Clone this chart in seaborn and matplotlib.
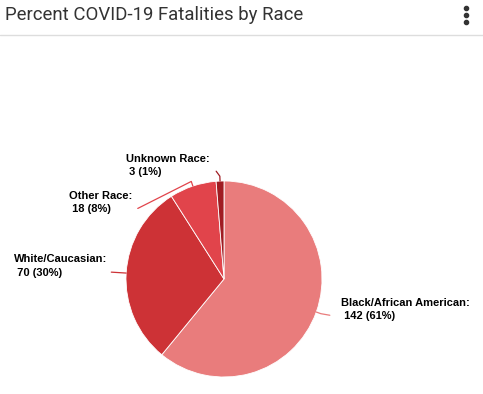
import numpy as np
import matplotlib
matplotlib.use("Agg")
import matplotlib.pyplot as plt
from matplotlib.lines import Line2D
import seaborn as sns

# data
races = ["Black/African American", "White/Caucasian", "Other Race", "Unknown Race"]
deaths = [142, 70, 18, 3]
percents = [61, 30, 8, 1]
colors = ["#e97c7c", "#cd3236", "#e1444b", "#a01c22"]

# label text anchors (data units, pie radius = 1) and line elbows
label_pos = [(1.19, -0.31), (-2.14, 0.13), (-1.58, 0.78), (-1.0, 1.16)]
line_end = [(1.08, -0.37), (-1.15, 0.07), (-0.88, 0.72), (-0.08, 1.10)]

sns.set_theme(style="white")
plt.rcParams["font.family"] = ["Liberation Sans", "DejaVu Sans"]

fig = plt.figure(figsize=(4.83, 3.94), dpi=100)
fig.patch.set_facecolor("white")

# title bar
fig.text(5 / 483, 1 - 15 / 394, "Percent COVID-19 Fatalities by Race",
         fontsize=13.4, color="#333333", va="center", ha="left",
         family=["Roboto", "DejaVu Sans"])
fig.add_artist(Line2D([0, 1], [1 - 35 / 394] * 2, color="#dddddd", lw=1,
                      transform=fig.transFigure))
fig.add_artist(Line2D([466 / 483] * 3, [1 - 8 / 394, 1 - 15 / 394, 1 - 22 / 394],
                      marker="o", ms=3.0, ls="none", color="#333333",
                      transform=fig.transFigure))

# pie axes: center (224, 279) px, radius 98 px
ax = fig.add_axes([126 / 483, (394 - 377) / 394, 196 / 483, 196 / 394])
wedges, _ = ax.pie(deaths, colors=colors, startangle=90, counterclock=False,
                   radius=1, wedgeprops=dict(edgecolor="white", linewidth=0.6))
ax.set_xlim(-1, 1)
ax.set_ylim(-1, 1)
ax.set_aspect("equal")
ax.axis("off")

for w, name, n, p, (tx, ty), (lx, ly), c in zip(
        wedges, races, deaths, percents, label_pos, line_end, colors):
    mid = np.deg2rad((w.theta1 + w.theta2) / 2)
    x0, y0 = np.cos(mid), np.sin(mid)
    x1, y1 = 1.05 * x0, 1.05 * y0
    ax.plot([x0, x1, lx], [y0, y1, ly], color=c, lw=0.9, clip_on=False)
    ax.text(tx, ty, f"{name}:\n {n} ({p}%)", fontsize=8, fontweight="bold",
            color="black", ha="left", va="center", linespacing=1.45,
            clip_on=False)

fig.savefig("out.png", dpi=100)
